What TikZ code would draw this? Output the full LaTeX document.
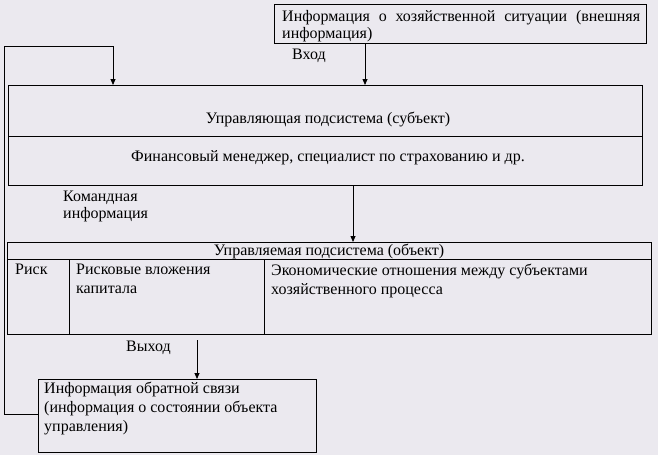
\documentclass[tikz,border=0pt]{standalone}
\usepackage{fontspec}
\setmainfont{Liberation Serif}
\usetikzlibrary{arrows.meta}
\definecolor{bg}{RGB}{235,233,239}
\begin{document}
\begin{tikzpicture}[x=1pt,y=-1pt,
  box/.style={draw, line width=0.8pt, inner sep=0pt, anchor=north west},
  txt/.style={font=\fontsize{16}{19}\selectfont, inner sep=0pt},
  conn/.style={line width=0.8pt},
  arr/.style={conn, -{Triangle[length=6pt,width=5pt]}}]
\fill[bg] (0,0) rectangle (658,455);
\useasboundingbox (0,0) rectangle (658,455);
% external info
\node[box, minimum width=372pt, minimum height=39pt] (ext) at (274,4) {};
\node[txt, anchor=north west, text width=358pt, align=justify, font=\fontsize{16}{17}\selectfont] (extt) at (282,10)
  {Информация о хозяйственной ситуации (внешняя информация)};
\node[txt, anchor=west] (vhod) at (292,56) {Вход};
% managing subsystem
\node[box, minimum width=634pt, minimum height=100pt] (mng) at (8,85) {};
\draw[conn] (8,136) -- (642,136);
\node[txt] (mngt) at (328,119) {Управляющая подсистема (субъект)};
\node[txt] (fin) at (328,158) {Финансовый менеджер, специалист по страхованию и др.};
% command info
\node[txt, anchor=north west, align=left, font=\fontsize{16}{17}\selectfont] (cmd) at (63,191) {Командная\\информация};
% managed subsystem
\node[box, minimum width=644pt, minimum height=92pt] (obj) at (7,242) {};
\draw[conn] (7,259) -- (651,259);
\draw[conn] (69,259) -- (69,334);
\draw[conn] (264,259) -- (264,334);
\node[txt] (objt) at (329,251) {Управляемая подсистема (объект)};
\node[txt, anchor=north west] (risk) at (15,264) {Риск};
\node[txt, anchor=north west, align=left] (rv) at (76,264) {Рисковые вложения\\капитала};
\node[txt, anchor=north west, align=left] (ek) at (271,264) {Экономические отношения между субъектами\\хозяйственного процесса};
% output
\node[txt, anchor=west] (vyhod) at (126,348) {Выход};
% feedback
\node[box, minimum width=278pt, minimum height=73pt] (fb) at (38,379) {};
\node[txt, anchor=north west, align=left] (fbt) at (44,382) {Информация обратной связи\\(информация о состоянии объекта\\управления)};
% connectors
\coordinate (a1) at (365,43);
\coordinate (a1e) at (365,85);
\draw[arr] (a1) -- (a1e);
\coordinate (a2) at (353,185);
\coordinate (a2e) at (353,242);
\draw[arr] (a2) -- (a2e);
\coordinate (a3) at (197,340);
\coordinate (a3e) at (197,379);
\draw[arr] (a3) -- (a3e);
\coordinate (f0) at (38,414);
\coordinate (fe) at (113,85);
\draw[arr] (f0) -- (4,414) -- (4,46) -- (113,46) -- (fe);
\end{tikzpicture}
\end{document}
